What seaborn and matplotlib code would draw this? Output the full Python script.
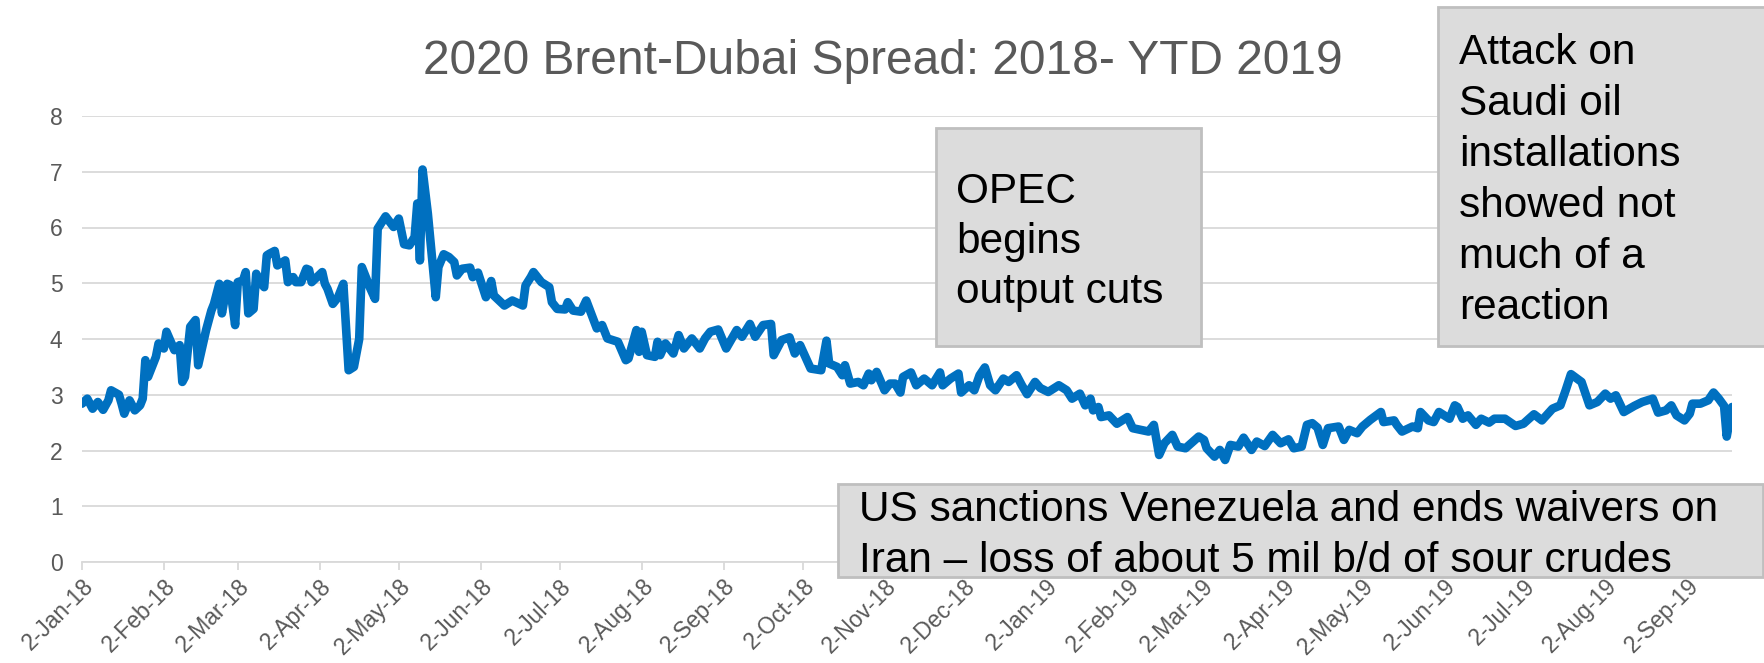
import matplotlib
matplotlib.use("Agg")
import matplotlib.pyplot as plt
from matplotlib.patches import Rectangle
import seaborn as sns
import pandas as pd

# ---------------- data ----------------
dates = [
    "2018-01-02", "2018-01-04", "2018-01-06", "2018-01-08", "2018-01-10", "2018-01-12", "2018-01-13",
    "2018-01-16", "2018-01-17", "2018-01-18", "2018-01-20", "2018-01-22", "2018-01-24", "2018-01-25",
    "2018-01-26", "2018-01-27", "2018-01-30", "2018-01-31", "2018-02-02", "2018-02-03", "2018-02-06",
    "2018-02-08", "2018-02-09", "2018-02-10", "2018-02-12", "2018-02-14", "2018-02-15", "2018-02-18",
    "2018-02-20", "2018-02-21", "2018-02-23", "2018-02-24", "2018-02-26", "2018-02-27", "2018-03-01",
    "2018-03-02", "2018-03-04", "2018-03-05", "2018-03-06", "2018-03-08", "2018-03-09", "2018-03-11",
    "2018-03-12", "2018-03-13", "2018-03-14", "2018-03-16", "2018-03-17", "2018-03-20", "2018-03-21",
    "2018-03-23", "2018-03-24", "2018-03-26", "2018-03-28", "2018-03-29", "2018-03-30", "2018-04-03",
    "2018-04-04", "2018-04-05", "2018-04-07", "2018-04-09", "2018-04-11", "2018-04-13", "2018-04-15",
    "2018-04-17", "2018-04-18", "2018-04-21", "2018-04-23", "2018-04-24", "2018-04-27", "2018-04-30",
    "2018-05-02", "2018-05-04", "2018-05-06", "2018-05-08", "2018-05-09", "2018-05-10", "2018-05-11",
    "2018-05-13", "2018-05-16", "2018-05-17", "2018-05-19", "2018-05-21", "2018-05-23", "2018-05-24",
    "2018-05-26", "2018-05-29", "2018-05-30", "2018-06-01", "2018-06-04", "2018-06-06", "2018-06-07",
    "2018-06-11", "2018-06-14", "2018-06-18", "2018-06-19", "2018-06-21", "2018-06-22", "2018-06-25",
    "2018-06-28", "2018-06-29", "2018-07-01", "2018-07-04", "2018-07-05", "2018-07-07", "2018-07-10",
    "2018-07-12", "2018-07-16", "2018-07-18", "2018-07-20", "2018-07-24", "2018-07-27", "2018-07-28",
    "2018-07-31", "2018-08-01", "2018-08-02", "2018-08-04", "2018-08-07", "2018-08-08", "2018-08-09",
    "2018-08-11", "2018-08-14", "2018-08-16", "2018-08-18", "2018-08-21", "2018-08-24", "2018-08-26",
    "2018-08-28", "2018-08-31", "2018-09-03", "2018-09-07", "2018-09-09", "2018-09-12", "2018-09-14",
    "2018-09-17", "2018-09-20", "2018-09-21", "2018-09-24", "2018-09-27", "2018-09-29", "2018-10-01",
    "2018-10-05", "2018-10-09", "2018-10-11", "2018-10-12", "2018-10-15", "2018-10-17", "2018-10-18",
    "2018-10-20", "2018-10-23", "2018-10-25", "2018-10-27", "2018-10-28", "2018-10-30", "2018-11-02",
    "2018-11-04", "2018-11-06", "2018-11-08", "2018-11-09", "2018-11-12", "2018-11-14", "2018-11-17",
    "2018-11-20", "2018-11-23", "2018-11-24", "2018-11-27", "2018-11-30", "2018-12-01", "2018-12-04",
    "2018-12-06", "2018-12-08", "2018-12-10", "2018-12-12", "2018-12-14", "2018-12-17", "2018-12-19",
    "2018-12-22", "2018-12-24", "2018-12-26", "2018-12-29", "2018-12-31",
    "2019-01-03", "2019-01-07", "2019-01-10", "2019-01-12", "2019-01-15", "2019-01-17", "2019-01-19",
    "2019-01-20", "2019-01-22", "2019-01-23", "2019-01-26", "2019-01-29", "2019-02-02", "2019-02-04",
    "2019-02-10", "2019-02-12", "2019-02-14", "2019-02-16", "2019-02-19", "2019-02-21", "2019-02-24",
    "2019-03-01", "2019-03-03", "2019-03-04", "2019-03-07", "2019-03-09", "2019-03-11", "2019-03-13",
    "2019-03-16", "2019-03-18", "2019-03-21", "2019-03-23", "2019-03-26", "2019-03-29", "2019-04-01",
    "2019-04-04", "2019-04-06", "2019-04-09", "2019-04-11", "2019-04-13", "2019-04-15", "2019-04-17",
    "2019-04-19", "2019-04-23", "2019-04-25", "2019-04-27", "2019-04-30", "2019-05-02", "2019-05-05",
    "2019-05-09", "2019-05-10", "2019-05-14", "2019-05-15", "2019-05-17", "2019-05-21", "2019-05-23",
    "2019-05-24", "2019-05-27", "2019-05-29", "2019-05-31", "2019-06-04", "2019-06-06", "2019-06-07",
    "2019-06-09", "2019-06-11", "2019-06-14", "2019-06-16", "2019-06-19", "2019-06-21", "2019-06-25",
    "2019-06-29", "2019-07-02", "2019-07-06", "2019-07-09", "2019-07-13", "2019-07-16", "2019-07-18",
    "2019-07-20", "2019-07-24", "2019-07-27", "2019-07-30", "2019-08-02", "2019-08-04", "2019-08-06",
    "2019-08-09", "2019-08-13", "2019-08-16", "2019-08-20", "2019-08-22", "2019-08-25", "2019-08-27",
    "2019-08-29", "2019-09-01", "2019-09-03", "2019-09-04", "2019-09-07", "2019-09-10", "2019-09-12",
    "2019-09-14", "2019-09-16", "2019-09-17", "2019-09-19",
]
spread = [
    2.84, 2.93, 2.75, 2.87, 2.73, 2.90, 3.08,
    3.00, 2.84, 2.66, 2.90, 2.72, 2.81, 2.93,
    3.62, 3.32, 3.68, 3.92, 3.83, 4.13, 3.80,
    3.89, 3.23, 3.32, 4.22, 4.34, 3.53, 4.16,
    4.51, 4.63, 4.99, 4.46, 4.99, 4.97, 4.25,
    5.02, 5.05, 5.20, 4.46, 4.54, 5.17, 4.99,
    4.93, 5.50, 5.53, 5.58, 5.32, 5.41, 5.02,
    5.11, 5.02, 5.02, 5.26, 5.24, 5.02, 5.20,
    4.99, 4.90, 4.63, 4.75, 4.99, 3.44, 3.50,
    4.00, 5.29, 4.93, 4.72, 5.98, 6.20, 6.01,
    6.16, 5.70, 5.68, 5.83, 6.43, 5.41, 7.04,
    6.25, 4.75, 5.29, 5.52, 5.47, 5.38, 5.14,
    5.26, 5.28, 5.11, 5.19, 4.75, 5.04, 4.78,
    4.60, 4.69, 4.60, 4.96, 5.11, 5.20, 5.02,
    4.93, 4.66, 4.54, 4.53, 4.66, 4.51, 4.49,
    4.69, 4.19, 4.25, 4.01, 3.95, 3.62, 3.65,
    4.16, 3.77, 4.13, 3.71, 3.68, 3.95, 3.71,
    3.92, 3.74, 4.07, 3.83, 4.01, 3.83, 4.01,
    4.13, 4.17, 3.83, 4.16, 4.04, 4.27, 4.04,
    4.25, 4.27, 3.71, 3.98, 4.03, 3.74, 3.89,
    3.47, 3.44, 3.97, 3.56, 3.50, 3.35, 3.53,
    3.20, 3.23, 3.17, 3.38, 3.26, 3.41, 3.08,
    3.20, 3.20, 3.04, 3.32, 3.40, 3.17, 3.29,
    3.17, 3.40, 3.17, 3.29, 3.38, 3.04, 3.17,
    3.08, 3.35, 3.49, 3.17, 3.08, 3.29, 3.23,
    3.35, 3.17, 3.01, 3.23, 3.12,
    3.05, 3.17, 3.08, 2.93, 3.02, 2.81, 2.93,
    2.72, 2.78, 2.60, 2.63, 2.48, 2.60, 2.40,
    2.34, 2.46, 1.92, 2.13, 2.28, 2.07, 2.04,
    2.25, 2.19, 2.04, 1.89, 2.01, 1.83, 2.10,
    2.07, 2.23, 2.01, 2.16, 2.08, 2.28, 2.13,
    2.20, 2.04, 2.07, 2.46, 2.49, 2.41, 2.10,
    2.40, 2.43, 2.19, 2.37, 2.31, 2.43, 2.55,
    2.69, 2.51, 2.54, 2.46, 2.34, 2.43, 2.40,
    2.69, 2.54, 2.51, 2.69, 2.57, 2.81, 2.78,
    2.57, 2.63, 2.46, 2.57, 2.50, 2.57, 2.57,
    2.44, 2.48, 2.65, 2.54, 2.75, 2.81, 3.08,
    3.37, 3.23, 2.81, 2.87, 3.02, 2.93, 2.99,
    2.69, 2.80, 2.87, 2.93, 2.68, 2.72, 2.81,
    2.63, 2.54, 2.66, 2.84, 2.84, 2.90, 3.04,
    2.93, 2.80, 2.25, 2.78,
]
y_ticks = [0, 1, 2, 3, 4, 5, 6, 7, 8]
title = "2020 Brent-Dubai Spread: 2018- YTD 2019"
note_opec = ["OPEC", "begins", "output cuts"]
note_attack = ["Attack on", "Saudi oil", "installations", "showed not", "much of a", "reaction"]
note_us = ["US sanctions Venezuela and ends waivers on",
           "Iran \u2013 loss of about 5 mil b/d of sour crudes"]

# ---------------- figure ----------------
W, H = 1765, 663
sns.set_theme(style="white")
plt.rcParams["font.family"] = ["Liberation Sans", "DejaVu Sans"]

fig = plt.figure(figsize=(W / 100, H / 100), dpi=100)
ax = fig.add_axes([82 / W, 1 - 562 / H, (1732 - 82) / W, (562 - 116) / H])

df = pd.DataFrame({"date": pd.to_datetime(dates), "spread": spread})
sns.lineplot(data=df, x="date", y="spread", ax=ax, color="#0070C0", linewidth=6.2)
for ln in ax.lines:
    ln.set_solid_joinstyle("round")
    ln.set_solid_capstyle("round")

grid_c = "#d9d9d9"
ax.set_ylim(0, 8)
ax.set_yticks(y_ticks)
ax.set_xlim(df["date"].iloc[0], df["date"].iloc[-1])
ax.yaxis.grid(True, color=grid_c, linewidth=1.3)
ax.set_axisbelow(True)
for s in ["top", "right", "left"]:
    ax.spines[s].set_visible(False)
ax.spines["bottom"].set_color(grid_c)
ax.spines["bottom"].set_linewidth(1.3)

tick_dates = pd.date_range("2018-01-02", "2019-09-02", freq=pd.DateOffset(months=1))
ax.set_xticks(tick_dates)
ax.set_xticklabels([f"{d.day}-{d.strftime('%b-%y')}" for d in tick_dates],
                   rotation=45, ha="right", va="top", rotation_mode="anchor")
ax.tick_params(axis="x", length=6, width=1.3, color=grid_c, pad=3,
               labelsize=16.5, labelcolor="#595959", direction="out", bottom=True)
ax.tick_params(axis="y", length=0, pad=14, labelsize=16.5, labelcolor="#595959")
ax.set_xlabel("")
ax.set_ylabel("")


def px(x, y):
    return x / W, 1 - y / H


# title
fig.text(*px(883, 74), title, ha="center", va="baseline", fontsize=34.5, color="#595959")


def box(x0, y0, x1, y1):
    fx, fy = px(x0, y1)
    fig.add_artist(Rectangle((fx, fy), (x1 - x0) / W, (y1 - y0) / H, transform=fig.transFigure,
                             facecolor="#dcdcdc", edgecolor="#bfbfbf", linewidth=2, zorder=5))


def lines(x, baselines, texts):
    for b, t in zip(baselines, texts):
        fig.text(*px(x, b), t, ha="left", va="baseline", fontsize=30.5, color="black", zorder=6)


box(936, 128, 1201, 346)
lines(956, [203, 253, 303], note_opec)

box(1438, 7, 1775, 346)
lines(1459, [64, 115, 166, 217, 268, 319], note_attack)

box(838, 484, 1763, 577)
lines(859, [521, 572], note_us)

fig.savefig("out.png", dpi=100)
